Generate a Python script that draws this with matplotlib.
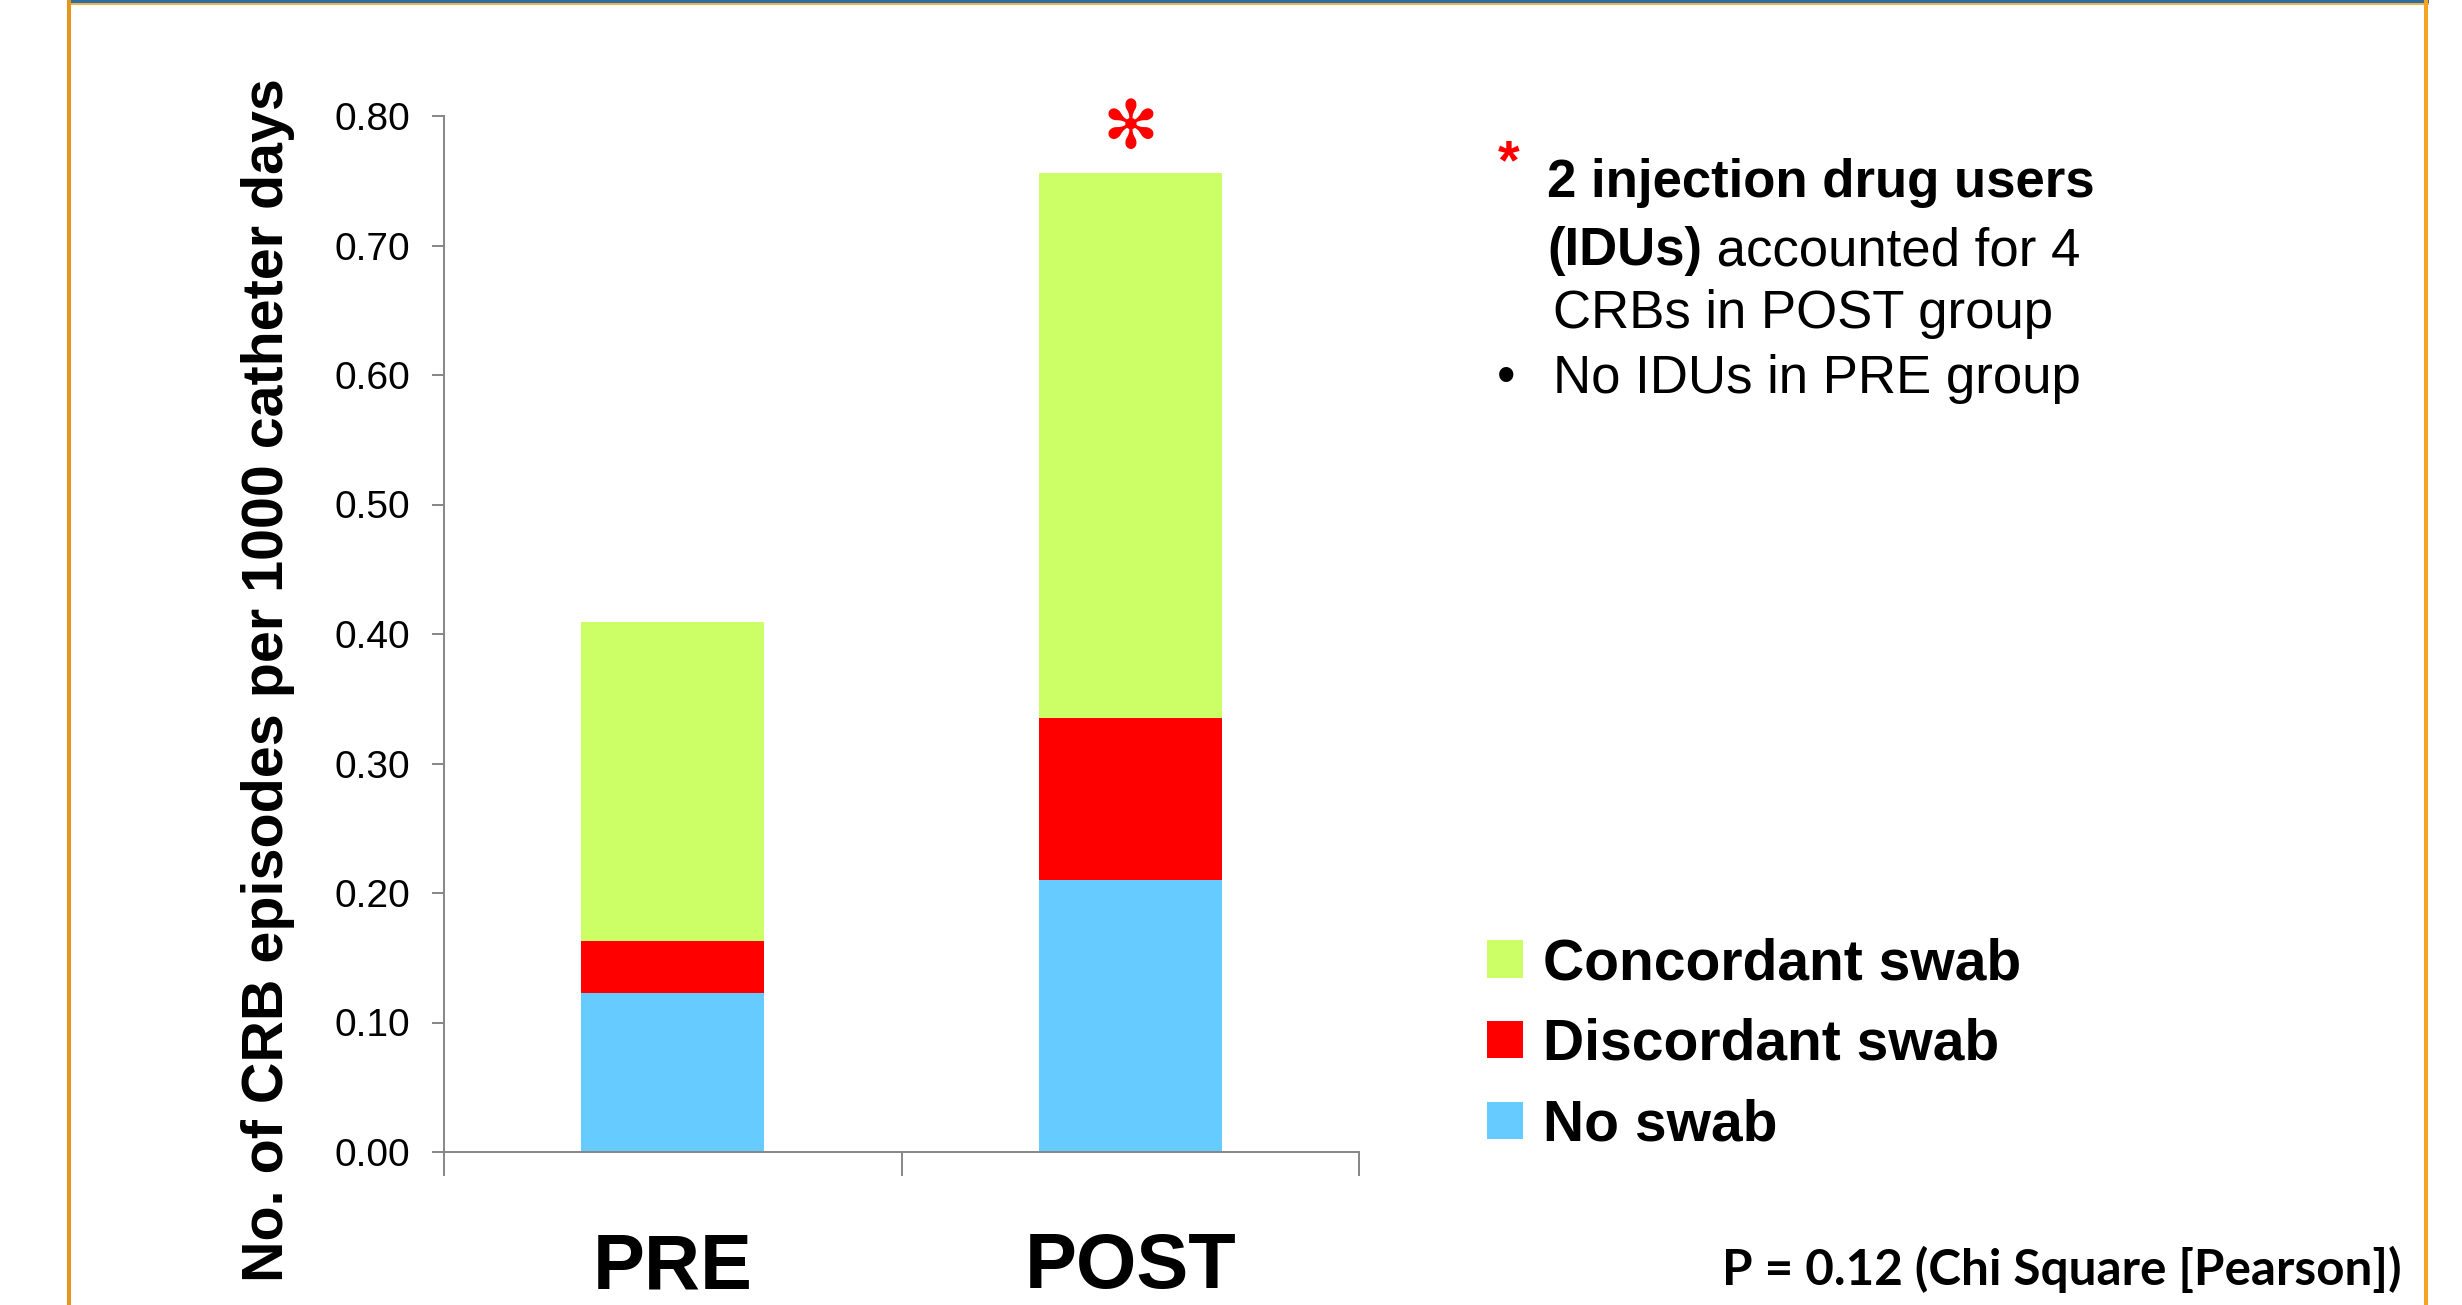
import matplotlib
matplotlib.use("Agg")
import matplotlib.pyplot as plt
from matplotlib.patches import Rectangle

# Data: CRB episodes per 1000 catheter days, stacked by swab result
groups = ["PRE", "POST"]
no_swab = [0.123, 0.210]
discordant = [0.040, 0.125]
concordant = [0.246, 0.421]
series_names = ["No swab", "Discordant swab", "Concordant swab"]
series_colors = ["#66CCFF", "#FF0000", "#CCFF66"]
y_ticks = [0.0, 0.1, 0.2, 0.3, 0.4, 0.5, 0.6, 0.7, 0.8]

W, H = 2462, 1305
DPI = 100
plt.rcParams["font.family"] = ["Liberation Sans", "DejaVu Sans"]

fig = plt.figure(figsize=(W / DPI, H / DPI), dpi=DPI, facecolor="white")

# slide frame: blue top rule with orange edging
def px_rect(x0, y0, x1, y1, color):
    fig.add_artist(Rectangle((x0 / W, 1 - y1 / H), (x1 - x0) / W, (y1 - y0) / H,
                             transform=fig.transFigure, color=color, lw=0, zorder=0))

px_rect(67, 0, 2429, 3, "#2F6EA5")
px_rect(67, 3, 2429, 5, "#F2B24A")
px_rect(67, 0, 71, H, "#E8951C")
px_rect(2424, 0, 2428, H, "#F4A422")

# plot area
ax_left, ax_right, ax_top, ax_bottom = 444, 1359, 116, 1152
ax = fig.add_axes([ax_left / W, 1 - ax_bottom / H,
                   (ax_right - ax_left) / W, (ax_bottom - ax_top) / H])

x = list(range(len(groups)))
bottom = [0.0] * len(groups)
containers = []
for vals, name, col in zip([no_swab, discordant, concordant], series_names, series_colors):
    bc = ax.bar(x, vals, width=0.4, bottom=bottom, color=col, label=name, lw=0, zorder=2)
    containers.append(bc)
    bottom = [b + v for b, v in zip(bottom, vals)]
totals = bottom

ax.set_xlim(-0.5, len(groups) - 0.5)
ax.set_ylim(0, 0.8)
ax.set_yticks(y_ticks)
ax.set_yticklabels([f"{v:.2f}" for v in y_ticks])

axis_gray = "#868686"
for side in ["top", "right"]:
    ax.spines[side].set_visible(False)
for side in ["left", "bottom"]:
    ax.spines[side].set_color(axis_gray)
    ax.spines[side].set_linewidth(1.4)

ax.tick_params(axis="y", direction="out", length=8.6, width=1.4, color=axis_gray,
               pad=15.5, labelsize=28, labelcolor="black")

# category boundaries as minor ticks, category names as major labels
ax.set_xticks([i - 0.5 for i in range(len(groups) + 1)], minor=True)
ax.set_xticks(x)
ax.set_xticklabels(groups, fontsize=56, fontweight="bold")
ax.tick_params(axis="x", which="minor", direction="out", length=17, width=1.4, color=axis_gray)
ax.tick_params(axis="x", which="major", length=0, pad=98)
for lab in ax.get_xticklabels():
    lab.set_verticalalignment("baseline")

# y label
fig.text(283 / W, 1 - 680 / H, "No. of CRB episodes per 1000 catheter days",
         rotation=90, rotation_mode="anchor", ha="center", va="baseline",
         fontsize=41.3, fontweight="bold")

# significance marker over POST
ax.annotate("\u273B", xy=(1, totals[1]), xytext=(0, 32), textcoords="offset points",
            ha="center", va="center", color="#FF0000", fontsize=48,
            fontfamily="DejaVu Sans", annotation_clip=False)

# legend
handles = [containers[2], containers[1], containers[0]]
labels = [series_names[2], series_names[1], series_names[0]]
fig.legend(handles, labels, loc="upper left", bbox_to_anchor=(1487 / W, 1 - 937 / H),
           frameon=False, prop={"size": 41, "weight": "bold"},
           handlelength=0.63, handleheight=0.63, handletextpad=0.35,
           labelspacing=0.47, borderpad=0, borderaxespad=0)

# note text
fs = 38
fig.text(1509 / W, 1 - 138 / H, "*", color="#FF0000", fontsize=fs + 2, fontweight="bold",
         ha="center", va="top")
fig.text(1547 / W, 1 - 197 / H, "2 injection drug users", fontsize=fs, fontweight="bold",
         ha="left", va="baseline")
t2 = fig.text(1547 / W, 1 - 265 / H, "(IDUs)", fontsize=fs, fontweight="bold",
              ha="left", va="baseline")
ax.annotate(" accounted for 4", xy=(1, 0), xycoords=t2, fontsize=fs,
            ha="left", va="bottom", annotation_clip=False)
fig.text(1553 / W, 1 - 328 / H, "CRBs in POST group", fontsize=fs,
         ha="left", va="baseline")
fig.text(1497 / W, 1 - 393 / H, "\u2022", fontsize=fs, ha="left", va="baseline")
fig.text(1553 / W, 1 - 393 / H, "No IDUs in PRE group", fontsize=fs,
         ha="left", va="baseline")

# statistics footnote
fig.text(1722 / W, 1 - 1246 / H, "P = 0.12 (Chi Square [Pearson])", fontsize=35.6,
         fontweight="bold", fontfamily=["Lato", "DejaVu Sans"], ha="left", va="top")

fig.savefig("out.png", dpi=DPI, facecolor="white")
